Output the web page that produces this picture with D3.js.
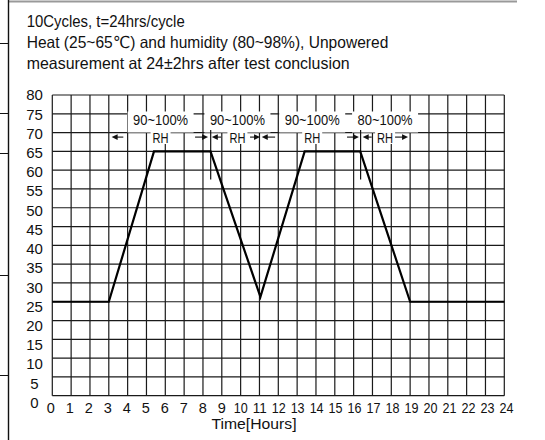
<!DOCTYPE html>
<html><head><meta charset="utf-8">
<script src="https://cdn.jsdelivr.net/npm/d3@7"></script>
<style>
html,body{margin:0;padding:0;background:#fff;}
svg{display:block;font-family:"Liberation Sans","DejaVu Sans",Arial,sans-serif;}
</style></head>
<body>
<svg id="c" width="545" height="440"></svg>
<script>
// ---- data ----
const titleLines = ["10Cycles, t=24hrs/cycle","Heat (25~65\u2103) and humidity (80~98%), Unpowered","measurement at 24\u00b12hrs after test conclusion"];
const xTickLabels = ["0","1","2","3","4","5","6","7","8","9","10","11","12","13","14","15","16","17","18","19","20","21","22","23","24"];
const yTickLabels = ["0","5","10","15","20","25","30","35","40","45","50","55","60","65","70","75","80"];
const profileHours = [0, 3, 5.4, 8.4, 11.05, 13.4, 16.35, 19, 24];
const profileTemps = [25, 25, 65, 65, 26.3, 65, 65, 25, 25];
const rhLabels = ["90~100%","90~100%","90~100%","80~100%"];
const rhLabelHours = [5.75, 9.83, 13.8, 17.67];
const arrowHeadHours = [3.15, 8.27, 8.47, 11.03, 11.12, 16.28, 16.48, 18.89];
const arrowTailHours = [3.77, 7.58, 8.96, 10.5, 11.83, 15.65, 16.96, 18.2];
const arrowLevel = 68.8;
const markerHours = [8.41, 16.37];
const markerFrom = 57.5, markerTo = 70.7;
const xTitle = "Time[Hours]";

// ---- drawing ----
const svg = d3.select("#c");
const x = d3.scaleLinear().domain([0,24]).range([52.3,504.3]);
const y = d3.scaleLinear().domain([0,80]).range([395.7,95]);
const xLab = d3.scaleLinear().domain([0,24]).range([50.8,506.5]);
const yLab = d3.scaleLinear().domain([0,80]).range([402.5,95]);

// outer frame fragments
svg.append("line").attr("x1",8).attr("x2",517).attr("y1",1.5).attr("y2",1.5).attr("stroke","#999").attr("stroke-width",2);
svg.append("line").attr("x1",8.5).attr("x2",8.5).attr("y1",0).attr("y2",440).attr("stroke","#111").attr("stroke-width",1.4);
[43,113,153,275,375].forEach(v=>svg.append("line").attr("x1",0).attr("x2",8.5).attr("y1",v+0.5).attr("y2",v+0.5).attr("stroke","#111").attr("stroke-width",1));

// title
svg.append("g").selectAll("text").data(titleLines).join("text")
  .attr("x",26.7).attr("y",(d,i)=>[27.3,48.3,68.6][i])
  .attr("font-size",16.5).attr("fill","#111")
  .attr("textLength",(d,i)=>[158,361.6,323][i]).attr("lengthAdjust","spacingAndGlyphs")
  .text(d=>d);

// grid
const grid = svg.append("g").attr("stroke","#1a1a1a").attr("stroke-width",1.2);
grid.selectAll("line.v").data(xTickLabels).join("line").attr("class","v")
  .attr("x1",d=>x(+d)).attr("x2",d=>x(+d)).attr("y1",y(80)).attr("y2",y(0));
grid.selectAll("line.h").data(yTickLabels).join("line").attr("class","h")
  .attr("x1",x(0)).attr("x2",x(24)).attr("y1",d=>y(+d)).attr("y2",d=>y(+d));

// tick labels
svg.append("g").selectAll("text").data(yTickLabels).join("text")
  .attr("x",34.5).attr("y",d=>yLab(+d)).attr("dy","0.36em").attr("text-anchor","middle")
  .attr("font-size",15).attr("fill","#111").text(d=>d);
svg.append("g").selectAll("text").data(xTickLabels).join("text")
  .attr("x",d=>xLab(+d)).attr("y",412.5).attr("text-anchor","middle")
  .attr("font-size",14.5).attr("fill","#111")
  .each(function(d){ if(d.length>1) d3.select(this).attr("textLength",14).attr("lengthAdjust","spacingAndGlyphs"); })
  .text(d=>d);
svg.append("text").attr("x",254).attr("y",428.5).attr("text-anchor","middle")
  .attr("font-size",14).attr("fill","#111").attr("textLength",85).attr("lengthAdjust","spacingAndGlyphs").text(xTitle);

// RH annotation boxes
const ya = y(arrowLevel);
const ann = svg.append("g");
rhLabelHours.forEach((h,i)=>{
  const cx = x(h);
  ann.append("rect").attr("x",cx-33).attr("y",111.5).attr("width",66).attr("height",21).attr("fill","#fff");
  ann.append("rect").attr("x",cx-10).attr("y",132).attr("width",20).attr("height",12).attr("fill","#fff");
  ann.append("text").attr("x",cx).attr("y",125.3).attr("text-anchor","middle").attr("font-size",14.5)
    .attr("fill","#111").attr("textLength",55).attr("lengthAdjust","spacingAndGlyphs").text(rhLabels[i]);
  ann.append("text").attr("x",cx).attr("y",142.5).attr("text-anchor","middle").attr("font-size",14.5)
    .attr("fill","#111").attr("textLength",16).attr("lengthAdjust","spacingAndGlyphs").text("RH");
});

// marker lines
svg.append("g").selectAll("line").data(markerHours).join("line")
  .attr("x1",d=>x(d)).attr("x2",d=>x(d)).attr("y1",y(markerTo)).attr("y2",y(markerFrom))
  .attr("stroke","#111").attr("stroke-width",1.2);

// arrows
const ag = svg.append("g");
arrowHeadHours.forEach((h,i)=>{
  const hx = x(h), tx = x(arrowTailHours[i]);
  const dir = Math.sign(hx-tx);
  ag.append("line").attr("x1",tx).attr("x2",hx-dir*4).attr("y1",ya).attr("y2",ya).attr("stroke","#111").attr("stroke-width",1.1);
  ag.append("path").attr("d",`M${hx},${ya} L${hx-dir*6},${ya-2.8} L${hx-dir*6},${ya+2.8} Z`).attr("fill","#111");
});

// profile line
const pts = profileHours.map((h,i)=>[h,profileTemps[i]]);
svg.append("path").datum(pts)
  .attr("d",d3.line().x(d=>x(d[0])).y(d=>y(d[1])))
  .attr("fill","none").attr("stroke","#000").attr("stroke-width",2.2).attr("stroke-linejoin","miter");
</script>
</body></html>
